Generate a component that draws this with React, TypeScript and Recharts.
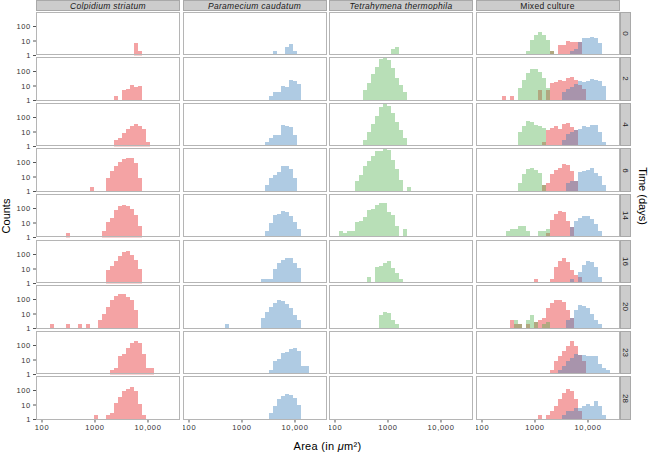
import React from "react";
import { Bar, BarChart, XAxis, YAxis } from "recharts";

// centres of the log-spaced histogram bins (area, µm²)
const binArea = [129.9, 154.5, 183.9, 218.8, 260.3, 309.7, 368.6, 438.5, 521.8, 620.9, 738.8, 879.0, 1045.9, 1244.5, 1480.8, 1762.0, 2096.5, 2494.6, 2968.3, 3531.8, 4202.3, 5000.3, 5949.7, 7079.5, 8423.6, 10023.1, 11926.0, 14190.6, 16885.7, 20091.1, 23905.7];

const days = ["0", "2", "4", "6", "14", "16", "20", "23", "28"];
const species = ["Colpidium striatum", "Paramecium caudatum", "Tetrahymena thermophila", "Mixed culture"];
const xTicks = [100, 1000, 10000];
const xTickLabels = ["100", "1000", "10,000"];
const yTicks = [1, 10, 100];

// counts per bin, one row per day (monocultures)
const colpidium = [
  [0,0,0,0,0,0,0,0,0,0, 0,0,0,0,0,0,0,0,0,0, 0,0,7,2,0,0,0,0,0,0, 0],
  [0,0,0,0,0,0,0,0,0,0, 0,0,0,0,0,0,0,2,0,5, 6,12,8,10,0,0,0,0,0,0, 0],
  [0,0,0,0,0,0,0,0,0,0, 0,0,0,0,0,0,0,3,4,8, 17,25,33,28,17,2,0,0,0,0, 0],
  [0,0,0,0,0,0,0,0,0,0, 0,2,0,0,0,9,27,55,110,170, 220,220,90,9,0,0,0,0,0,0, 0],
  [0,0,0,0,0,2,0,0,0,0, 0,0,0,0,3,11,22,75,160,185, 160,100,38,6,0,0,0,0,0,0, 0],
  [0,0,0,0,0,0,0,0,0,0, 0,0,0,0,0,8,16,35,80,160, 170,90,41,10,0,0,0,0,0,0, 0],
  [0,2,0,0,0,2,0,0,2,0, 2,0,0,4,10,32,100,170,250,230, 150,90,18,0,0,0,0,0,0,0, 0],
  [0,0,0,0,0,0,0,0,0,0, 0,0,0,0,0,0,2,3,19,24, 70,140,200,160,27,3,3,0,0,0, 0],
  [0,0,0,0,0,0,0,0,0,0, 0,0,2,0,0,2,3,14,35,90, 120,185,90,12,2,0,0,0,0,0, 0],
];

const paramecium = [
  [0,0,0,0,0,0,0,0,0,0, 0,0,0,0,0,0,0,0,0,0, 2,0,0,4,6,2,0,0,0,0, 0],
  [0,0,0,0,0,0,0,0,0,0, 0,0,0,0,0,0,0,0,0,2, 4,4,10,8,27,21,13,0,0,0, 0],
  [0,0,0,0,0,0,0,0,0,0, 0,0,0,0,0,0,0,0,2,4, 6,6,32,25,22,6,0,0,0,0, 0],
  [0,0,0,0,0,0,0,0,0,0, 0,0,0,0,0,0,0,0,3,9, 14,21,60,60,38,8,0,0,0,0, 0],
  [0,0,0,0,0,0,0,0,0,0, 0,0,0,0,0,0,0,0,3,10, 38,45,70,55,32,11,4,0,0,0, 0],
  [0,0,0,0,0,0,0,0,0,0, 0,0,0,0,0,0,0,2,2,2, 10,25,40,55,55,27,11,0,0,0, 0],
  [0,0,0,0,0,0,0,0,2,0, 0,0,0,0,0,0,0,5,14,30, 55,90,80,50,25,8,4,0,0,0, 0],
  [0,0,0,0,0,0,0,0,0,0, 0,0,0,0,0,0,0,0,0,2, 8,11,32,35,60,70,41,4,4,0, 0],
  [0,0,0,0,0,0,0,0,0,0, 0,0,0,0,0,0,0,0,0,3, 9,25,45,60,50,32,10,0,0,0, 0],
];

const tetrahymena = [
  [0,0,0,0,0,0,0,0,0,0, 0,0,0,3,4,0,0,0,0,0, 0,0,0,0,0,0,0,0,0,0, 0],
  [0,0,0,0,0,0,5,15,68,220, 700,950,630,170,34,12,4,0,0,0, 0,0,0,0,0,0,0,0,0,0, 0],
  [0,0,0,0,0,0,3,10,35,120, 500,900,600,200,50,14,4,0,0,0, 0,0,0,0,0,0,0,0,0,0, 0],
  [0,0,0,0,5,14,55,120,270,600, 650,950,700,160,38,6,0,2,0,0, 0,0,0,0,0,0,0,0,0,0, 0],
  [3,2,3,3,11,14,28,75,90,185, 240,230,60,38,6,0,4,0,0,0, 0,0,0,0,0,0,0,0,0,0, 0],
  [0,0,0,0,0,0,0,3,0,13, 16,27,38,11,5,2,0,0,0,0, 0,0,0,0,0,0,0,0,0,0, 0],
  [0,0,0,0,0,0,0,0,0,0, 8,14,12,4,2,0,0,0,0,0, 0,0,0,0,0,0,0,0,0,0, 0],
  [0,0,0,0,0,0,0,0,0,0, 0,0,0,0,0,0,0,0,0,0, 0,0,0,0,0,0,0,0,0,0, 0],
  [0,0,0,0,0,0,0,0,0,0, 0,0,0,0,0,0,0,0,0,0, 0,0,0,0,0,0,0,0,0,0, 0],
];

// mixed culture, one array per species
const mixedTetrahymena = [
  [0,0,0,0,0,0,0,0,0,0, 2,11,25,40,25,11,2,0,0,0, 0,0,0,0,0,0,0,0,0,0, 0],
  [0,0,0,0,0,0,0,0,7,25, 75,140,140,100,35,7,0,0,0,0, 0,0,0,0,0,0,0,0,0,0, 0],
  [0,0,0,0,0,0,0,0,10,28, 55,50,32,28,20,0,0,0,0,0, 0,0,0,0,0,0,0,0,0,0, 0],
  [0,0,0,0,0,0,0,0,4,16, 38,44,32,19,3,0,0,0,0,0, 0,0,0,0,0,0,0,0,0,0, 0],
  [0,0,0,0,0,3,4,4,6,6, 3,0,0,3,3,4,0,0,0,0, 0,0,0,0,0,0,0,0,0,0, 0],
  [0,0,0,0,0,0,0,0,0,0, 0,0,0,0,0,0,0,0,0,0, 0,0,0,0,0,0,0,0,0,0, 0],
  [0,0,0,0,0,0,0,4,2,0, 4,8,3,0,2,3,0,0,0,0, 0,0,0,0,0,0,0,0,0,0, 0],
  [0,0,0,0,0,0,0,0,0,0, 0,0,0,0,0,0,0,0,0,0, 0,0,0,0,0,0,0,0,0,0, 0],
  [0,0,0,0,0,0,0,0,0,0, 0,0,0,0,0,0,0,0,0,0, 0,0,0,0,0,0,0,0,0,0, 0],
];

const mixedColpidium = [
  [0,0,0,0,0,0,0,0,0,0, 0,0,0,0,0,0,2,0,5,5, 10,9,9,8,0,0,0,0,0,0, 0],
  [0,0,0,0,2,0,2,0,0,0, 0,0,0,5,0,5,15,20,25,22, 35,40,25,12,6,0,0,0,0,0, 0],
  [0,0,0,0,0,0,0,0,0,0, 0,0,0,0,2,13,19,25,17,33, 45,22,13,0,0,0,0,0,0,0, 0],
  [0,0,0,0,0,0,0,0,0,0, 0,0,0,0,3,4,16,32,45,80, 70,25,5,0,0,0,0,0,0,0, 0],
  [0,0,0,0,0,0,0,0,0,0, 0,0,0,0,0,2,17,45,65,55, 13,5,0,0,0,0,0,0,0,0, 0],
  [0,0,0,0,0,0,0,0,0,0, 0,0,2,0,0,0,2,13,38,55, 32,8,4,3,0,0,0,0,0,0, 0],
  [0,0,0,0,0,0,4,2,2,0, 2,0,3,4,5,25,60,100,100,70, 18,5,0,0,0,0,0,0,0,0, 0],
  [0,0,0,0,0,0,0,0,0,0, 0,0,0,0,0,0,2,8,19,40, 90,190,90,22,8,0,0,0,0,0, 0],
  [0,0,0,0,0,0,0,0,0,0, 0,0,0,2,0,2,4,8,25,70, 120,90,25,4,0,0,0,0,0,0, 0],
];

const mixedParamecium = [
  [0,0,0,0,0,0,0,0,0,0, 0,0,0,0,0,0,0,0,0,0, 0,2,3,8,15,15,18,16,7,0, 0],
  [0,0,0,0,0,0,0,0,0,0, 0,0,0,0,0,0,0,0,0,4, 6,8,14,22,20,22,30,25,22,10, 0],
  [0,0,0,0,0,0,0,0,0,0, 0,0,0,0,0,0,0,0,0,3, 7,10,13,17,25,22,30,30,10,2, 0],
  [0,0,0,0,0,0,0,0,0,0, 0,0,0,0,0,0,0,0,0,0, 4,5,5,22,26,30,45,19,11,3, 0],
  [0,0,0,0,0,0,0,0,0,0, 0,0,0,0,0,0,0,0,0,0, 0,5,13,22,32,32,19,8,3,0, 0],
  [0,0,0,0,0,0,0,0,0,0, 0,0,0,0,0,0,0,0,0,0, 0,2,0,6,19,38,32,13,3,0, 0],
  [0,0,0,0,0,0,0,0,0,0, 0,0,0,0,0,0,0,0,0,0, 4,5,18,42,38,25,10,4,2,0, 0],
  [0,0,0,0,0,0,0,0,0,0, 0,0,0,0,0,0,0,0,2,4, 8,13,25,22,22,20,20,20,5,3, 2],
  [0,0,0,0,0,0,0,0,0,0, 0,0,0,0,0,0,0,0,0,2, 4,4,6,6,8,12,8,19,8,2, 0],
];

const RED = "#E41A1C";
const BLUE = "#377EB8";
const GREEN = "#4DAF4A";
const FONT = "'Liberation Sans', Arial, Helvetica, sans-serif";

const PANEL_X = [36, 182.5, 329, 475.5];
const PANEL_W = 144;
const PANEL_H = 43.5;
const rowY = (r: number) => 11.5 + r * 45.6;
const Y_AXIS_W = 36;
const X_AXIS_H = 24;
const LABEL_PAD = 6; // room under the left column for the "1" tick label
const BAR_W = 3.97; // just under the bin spacing, so recharts keeps it

type Series = { key: string; color: string; counts: number[] };

function Panel({ row, col, series }: { row: number; col: number; series: Series[] }) {
  const first = col === 0;
  const last = row === days.length - 1;
  const data = binArea.map((area, i) => {
    const d: Record<string, number | null> = { area };
    series.forEach((s) => {
      d[s.key] = s.counts[i] > 0 ? s.counts[i] : null;
    });
    return d;
  });
  const pad = first && !last ? LABEL_PAD : 0;
  const left = first ? PANEL_X[0] - Y_AXIS_W : PANEL_X[col];
  const width = PANEL_W + (first ? Y_AXIS_W : 0);
  const height = PANEL_H + (last ? X_AXIS_H : 0) + pad;
  const tickStyle = { fontSize: 7.5, fill: "#333", fontFamily: FONT, letterSpacing: 0.7 };

  return (
    <div style={{ position: "absolute", left, top: rowY(row), width, height }}>
      <BarChart
        width={width}
        height={height}
        data={data}
        margin={{ top: 0, right: 0, bottom: pad, left: 0 }}
        barGap={-BAR_W}
      >
        <XAxis
          dataKey="area"
          type="number"
          scale="log"
          domain={[77, 40200]}
          allowDataOverflow
          ticks={xTicks}
          interval={0}
          tickFormatter={(_v, i) => xTickLabels[i]}
          hide={!last}
          height={X_AXIS_H}
          tickSize={3}
          axisLine={false}
          tickLine={{ stroke: "#555" }}
          tick={tickStyle}
        />
        <YAxis
          type="number"
          scale="log"
          domain={[1, 1000]}
          allowDataOverflow
          ticks={yTicks}
          interval={0}
          hide={!first}
          width={Y_AXIS_W}
          tickSize={3}
          axisLine={false}
          tickLine={{ stroke: "#555" }}
          tick={tickStyle}
        />
        {series.map((s) => (
          <Bar
            key={s.key}
            dataKey={s.key}
            fill={s.color}
            fillOpacity={0.4}
            barSize={BAR_W}
            shapeRendering="crispEdges"
            isAnimationActive={false}
          />
        ))}
      </BarChart>
      <div
        style={{
          position: "absolute",
          left: first ? Y_AXIS_W : 0,
          top: 0,
          width: PANEL_W,
          height: PANEL_H,
          border: "1px solid #b5b5b5",
          boxSizing: "border-box",
          pointerEvents: "none",
        }}
      />
    </div>
  );
}

function seriesFor(col: number, row: number): Series[] {
  if (col === 0) return [{ key: "c", color: RED, counts: colpidium[row] }];
  if (col === 1) return [{ key: "p", color: BLUE, counts: paramecium[row] }];
  if (col === 2) return [{ key: "t", color: GREEN, counts: tetrahymena[row] }];
  // red underneath, so overlaps turn olive (with green) and mauve (with blue)
  return [
    { key: "c", color: RED, counts: mixedColpidium[row] },
    { key: "t", color: GREEN, counts: mixedTetrahymena[row] },
    { key: "p", color: BLUE, counts: mixedParamecium[row] },
  ];
}

const stripBase: React.CSSProperties = {
  position: "absolute",
  background: "#cccccc",
  border: "1px solid #a9a9a9",
  boxSizing: "border-box",
  display: "flex",
  alignItems: "center",
  justifyContent: "center",
  color: "#1a1a1a",
  fontFamily: FONT,
  overflow: "hidden",
};

export default function App() {
  return (
    <div
      style={{
        position: "absolute",
        left: 0,
        top: 0,
        width: 650,
        height: 453,
        background: "#fff",
        fontFamily: FONT,
        overflow: "hidden",
      }}
    >
      {species.map((name, c) => (
        <div
          key={name}
          style={{
            ...stripBase,
            left: PANEL_X[c],
            top: 0,
            width: PANEL_W,
            height: 11,
            fontSize: 8.5,
            letterSpacing: 0.3,
            fontStyle: c < 3 ? "italic" : "normal",
          }}
        >
          {name}
        </div>
      ))}
      {days.map((d, r) => (
        <div
          key={d}
          style={{ ...stripBase, left: 620, top: rowY(r), width: 11, height: PANEL_H, fontSize: 8 }}
        >
          <span style={{ transform: "rotate(90deg)", display: "inline-block" }}>{d}</span>
        </div>
      ))}
      {days.map((_d, r) =>
        species.map((_s, c) => <Panel key={`${r}-${c}`} row={r} col={c} series={seriesFor(c, r)} />)
      )}
      <div
        style={{
          position: "absolute",
          left: 5.5,
          top: 215.5,
          transform: "translate(-50%, -50%) rotate(-90deg)",
          fontSize: 11,
          whiteSpace: "nowrap",
          color: "#000",
        }}
      >
        Counts
      </div>
      <div
        style={{
          position: "absolute",
          left: 643,
          top: 196,
          transform: "translate(-50%, -50%) rotate(90deg)",
          fontSize: 11,
          whiteSpace: "nowrap",
          color: "#000",
        }}
      >
        Time (days)
      </div>
      <div
        style={{
          position: "absolute",
          left: 327.5,
          top: 446,
          transform: "translate(-50%, -50%)",
          fontSize: 11,
          whiteSpace: "nowrap",
          color: "#000",
          letterSpacing: 0.3,
        }}
      >
        Area (in <i>μ</i>m²)
      </div>
    </div>
  );
}
